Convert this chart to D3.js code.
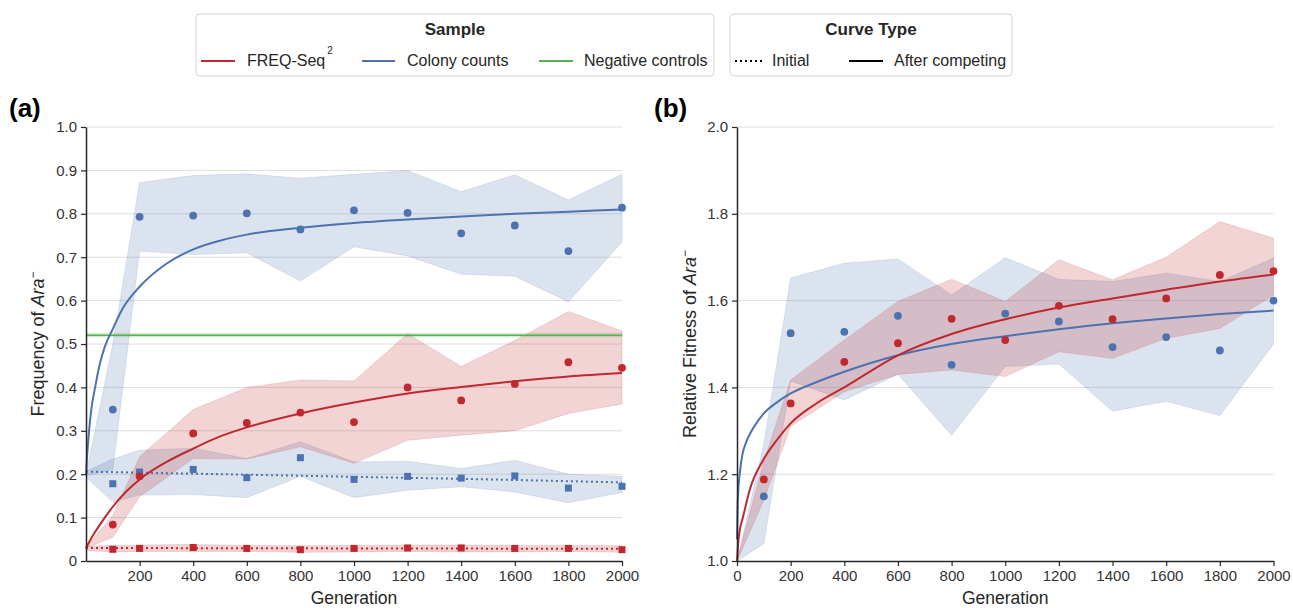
<!DOCTYPE html>
<html><head><meta charset="utf-8">
<script src="https://cdn.jsdelivr.net/npm/d3@7"></script>
<style>body{margin:0;background:#fff;} text{font-family:"Liberation Sans",Arial,Helvetica,sans-serif;}</style>
</head><body><svg id="c" width="1293" height="608"></svg>
<script>
// ---------- DATA ----------
const gens = [100,200,400,600,800,1000,1200,1400,1600,1800,2000];
const bandGens = [0,100,200,400,600,800,1000,1200,1400,1600,1800,2000];

// Panel (a): frequency of Ara-
const freqColonyPts   = [0.349,0.793,0.796,0.801,0.764,0.808,0.802,0.755,0.773,0.714,0.814];
const freqColonyUpper = [0.200,0.500,0.872,0.888,0.892,0.882,0.891,0.900,0.851,0.890,0.832,0.891];
const freqColonyLower = [0.197,0.210,0.714,0.706,0.710,0.645,0.724,0.703,0.661,0.656,0.597,0.735];
const freqColonyFitGens = [0,5,10,20,34,50,71,100,140,200,300,400,500,600,800,1000,1200,1400,1600,1800,2000];
const freqColonyFit     = [0.200,0.250,0.290,0.350,0.400,0.450,0.495,0.535,0.585,0.632,0.685,0.718,0.738,0.752,0.768,0.779,0.787,0.794,0.800,0.805,0.810];

const freqColonyInitPts   = [0.178,0.205,0.211,0.192,0.238,0.188,0.195,0.191,0.196,0.168,0.172];
const freqColonyInitUpper = [0.207,0.235,0.255,0.260,0.236,0.275,0.228,0.230,0.213,0.232,0.200,0.195];
const freqColonyInitLower = [0.193,0.136,0.152,0.153,0.146,0.195,0.146,0.163,0.171,0.159,0.134,0.158];
const freqColonyInitFitGens = [0,500,1000,1500,2000];
const freqColonyInitFit     = [0.206,0.200,0.194,0.188,0.181];

const freqSeqPts   = [0.084,0.195,0.294,0.318,0.342,0.320,0.400,0.370,0.408,0.458,0.445];
const freqSeqUpper = [0.032,0.105,0.240,0.349,0.400,0.417,0.415,0.524,0.448,0.508,0.575,0.530];
const freqSeqLower = [0.030,0.055,0.148,0.236,0.235,0.263,0.225,0.278,0.290,0.300,0.340,0.362];
const freqSeqFitGens = [0,25,50,100,150,200,300,400,500,600,800,1000,1200,1400,1600,1800,2000];
const freqSeqFit     = [0.030,0.058,0.082,0.125,0.160,0.188,0.228,0.259,0.287,0.308,0.340,0.365,0.386,0.401,0.414,0.425,0.433];

const freqSeqInitPts   = [0.027,0.029,0.031,0.029,0.026,0.029,0.030,0.030,0.029,0.029,0.026];
const freqSeqInitUpper = [0.034,0.036,0.037,0.038,0.036,0.035,0.036,0.037,0.037,0.036,0.036,0.035];
const freqSeqInitLower = [0.024,0.021,0.022,0.022,0.022,0.020,0.021,0.022,0.021,0.021,0.022,0.020];
const freqSeqInitFitGens = [0,1000,2000];
const freqSeqInitFit     = [0.030,0.029,0.028];

const negGens  = [0,2000];
const negMean  = [0.520,0.520];
const negUpper = [0.525,0.525];
const negLower = [0.516,0.516];

// Panel (b): relative fitness of Ara-
const fitColonyPts   = [1.149,1.525,1.528,1.565,1.452,1.570,1.552,1.493,1.516,1.485,1.600];
const fitColonyUpper = [1.000,1.270,1.652,1.686,1.696,1.613,1.699,1.649,1.644,1.663,1.644,1.698];
const fitColonyLower = [1.000,1.040,1.415,1.371,1.430,1.290,1.448,1.454,1.345,1.368,1.335,1.500];
const fitColonyFitGens = [0,2,5,10,20,35,50,75,100,150,200,300,400,600,800,1000,1200,1400,1600,1800,2000];
const fitColonyFit     = [1.050,1.120,1.165,1.200,1.245,1.275,1.295,1.320,1.340,1.366,1.386,1.413,1.436,1.474,1.500,1.518,1.534,1.548,1.559,1.569,1.577];

const fitSeqPts   = [1.188,1.363,1.459,1.502,1.558,1.509,1.588,1.557,1.605,1.659,1.668];
const fitSeqUpper = [1.000,1.230,1.417,1.509,1.598,1.649,1.598,1.694,1.648,1.700,1.782,1.744];
const fitSeqLower = [1.000,1.140,1.310,1.390,1.430,1.440,1.425,1.482,1.467,1.513,1.536,1.613];
const fitSeqFitGens = [0,5,10,22,47,97,150,200,296,400,600,800,1000,1200,1400,1600,1800,2000];
const fitSeqFit     = [1.000,1.045,1.070,1.100,1.163,1.232,1.280,1.317,1.363,1.400,1.474,1.523,1.557,1.584,1.605,1.625,1.644,1.660];

// Ticks
const aXTicks = [200,400,600,800,1000,1200,1400,1600,1800,2000];
const aYTicks = [0,0.1,0.2,0.3,0.4,0.5,0.6,0.7,0.8,0.9,1.0];
const bXTicks = [0,200,400,600,800,1000,1200,1400,1600,1800,2000];
const bYTicks = [1.0,1.2,1.4,1.6,1.8,2.0];

// ---------- DRAW ----------
const RED = "#c0282e", BLUE = "#4c72b0", GREEN = "#55b04f";
const INK = "#262626";
const svg = d3.select("#c");

function drawPanel(cfg) {
  const x = d3.scaleLinear().domain([0,2000]).range(cfg.xr);
  const y = d3.scaleLinear().domain(cfg.yd).range([561,127]);
  const g = svg.append("g");

  // grid
  g.append("g").selectAll("line").data(cfg.yTicks.filter(v => v !== cfg.yd[0])).join("line")
    .attr("x1", x(0)).attr("x2", x(2000)).attr("y1", d => y(d)).attr("y2", d => y(d))
    .attr("stroke", "#dedede").attr("stroke-width", 1);

  // bands
  cfg.bands.forEach(b => {
    const area = d3.area().x((d,i) => x(b.gx[i])).y0((d,i) => y(b.lo[i])).y1((d,i) => y(b.hi[i]));
    g.append("path").datum(b.hi).attr("d", area)
      .attr("fill", b.color).attr("fill-opacity", 0.2)
      .attr("stroke", b.color).attr("stroke-opacity", 0.15).attr("stroke-width", 1);
  });

  // lines
  cfg.lines.forEach(l => {
    const line = d3.line().x((d,i) => x(l.gx[i])).y(d => y(d)).curve(d3.curveMonotoneX);
    g.append("path").datum(l.v).attr("d", line).attr("fill", "none")
      .attr("stroke", l.color).attr("stroke-width", l.w || 2)
      .attr("stroke-dasharray", l.dash || null).attr("stroke-opacity", l.op || 1);
  });

  // points
  cfg.points.forEach(p => {
    if (p.shape === "circle") {
      g.append("g").selectAll("circle").data(p.v).join("circle")
        .attr("cx", (d,i) => x(gens[i])).attr("cy", d => y(d)).attr("r", 3.9)
        .attr("fill", p.color);
    } else {
      g.append("g").selectAll("rect").data(p.v).join("rect")
        .attr("x", (d,i) => x(gens[i]) - 3.5).attr("y", d => y(d) - 3.5)
        .attr("width", 7).attr("height", 7).attr("fill", p.color);
    }
  });

  // axes
  const xa = g.append("g").attr("transform", "translate(0,561)")
    .call(d3.axisBottom(x).tickValues(cfg.xTicks).tickSize(5).tickSizeOuter(0).tickPadding(4).tickFormat(d3.format("d")));
  const ya = g.append("g").attr("transform", `translate(${cfg.xr[0]},0)`)
    .call(d3.axisLeft(y).tickValues(cfg.yTicks).tickSize(5).tickSizeOuter(0).tickPadding(4).tickFormat(cfg.yFmt));
  [xa, ya].forEach(a => {
    a.select(".domain").attr("stroke", INK).attr("stroke-width", 1.5);
    a.selectAll(".tick line").attr("stroke", INK).attr("stroke-width", 1.2);
    a.selectAll(".tick text").attr("fill", "#333").style("font-size", "15px")
      .style("font-family", '"Liberation Sans",Arial,sans-serif');
  });

  // axis titles
  g.append("text").attr("x", (cfg.xr[0] + cfg.xr[1]) / 2).attr("y", 604)
    .attr("text-anchor", "middle").attr("fill", INK).style("font-size", "17.5px").text("Generation");
  const yt = g.append("text").attr("transform", `translate(${cfg.ylx},344) rotate(-90)`)
    .attr("text-anchor", "middle").attr("fill", INK).style("font-size", "18px");
  yt.append("tspan").text(cfg.ylabel + " of ");
  yt.append("tspan").style("font-style", "italic").text("Ara");
  yt.append("tspan").attr("dy", -7).style("font-size", "12px").text("\u2212");

  // panel letter
  svg.append("text").attr("x", cfg.letterX).attr("y", 117).attr("fill", "#000")
    .style("font-size", "26px").style("font-weight", "bold").text(cfg.letter);
}

drawPanel({
  xr: [86, 622], yd: [0, 1], xTicks: aXTicks, yTicks: aYTicks,
  yFmt: d => d === 0 ? "0" : d3.format(".1f")(d),
  ylabel: "Frequency", ylx: 44, letter: "(a)", letterX: 9,
  bands: [
    {gx: bandGens, hi: freqColonyUpper, lo: freqColonyLower, color: BLUE},
    {gx: bandGens, hi: freqColonyInitUpper, lo: freqColonyInitLower, color: BLUE},
    {gx: bandGens, hi: freqSeqUpper, lo: freqSeqLower, color: RED},
    {gx: bandGens, hi: freqSeqInitUpper, lo: freqSeqInitLower, color: RED},
    {gx: negGens, hi: negUpper, lo: negLower, color: GREEN}
  ],
  lines: [
    {gx: negGens, v: negMean, color: GREEN, w: 1.6},
    {gx: freqColonyInitFitGens, v: freqColonyInitFit, color: BLUE, dash: "2,3"},
    {gx: freqSeqInitFitGens, v: freqSeqInitFit, color: RED, dash: "2,3"},
    {gx: freqColonyFitGens, v: freqColonyFit, color: BLUE},
    {gx: freqSeqFitGens, v: freqSeqFit, color: RED}
  ],
  points: [
    {v: freqColonyInitPts, color: BLUE, shape: "square"},
    {v: freqSeqInitPts, color: RED, shape: "square"},
    {v: freqColonyPts, color: BLUE, shape: "circle"},
    {v: freqSeqPts, color: RED, shape: "circle"}
  ]
});

drawPanel({
  xr: [737, 1273.5], yd: [1, 2], xTicks: bXTicks, yTicks: bYTicks,
  yFmt: d3.format(".1f"),
  ylabel: "Relative Fitness", ylx: 696, letter: "(b)", letterX: 654,
  bands: [
    {gx: bandGens, hi: fitColonyUpper, lo: fitColonyLower, color: BLUE},
    {gx: bandGens, hi: fitSeqUpper, lo: fitSeqLower, color: RED}
  ],
  lines: [
    {gx: fitColonyFitGens, v: fitColonyFit, color: BLUE},
    {gx: fitSeqFitGens, v: fitSeqFit, color: RED}
  ],
  points: [
    {v: fitColonyPts, color: BLUE, shape: "circle"},
    {v: fitSeqPts, color: RED, shape: "circle"}
  ]
});

// ---------- LEGENDS ----------
function box(x, w) {
  svg.append("rect").attr("x", x).attr("y", 14).attr("width", w).attr("height", 62).attr("rx", 4)
    .attr("fill", "#fff").attr("stroke", "#d4d4d4").attr("stroke-width", 1);
}
box(196, 518);
box(730, 282);
svg.append("text").attr("x", 455).attr("y", 35).attr("text-anchor", "middle").attr("fill", INK)
  .style("font-size", "17px").style("font-weight", "bold").text("Sample");
svg.append("text").attr("x", 871).attr("y", 35).attr("text-anchor", "middle").attr("fill", INK)
  .style("font-size", "17px").style("font-weight", "bold").text("Curve Type");

const sampleItems = [
  {x1: 201, x2: 235, tx: 247, color: RED, label: "FREQ-Seq", sup: "2"},
  {x1: 362, x2: 395, tx: 407, color: BLUE, label: "Colony counts"},
  {x1: 539, x2: 573, tx: 584, color: GREEN, label: "Negative controls"}
];
sampleItems.forEach(it => {
  svg.append("line").attr("x1", it.x1).attr("x2", it.x2).attr("y1", 61).attr("y2", 61)
    .attr("stroke", it.color).attr("stroke-width", 2);
  const t = svg.append("text").attr("x", it.tx).attr("y", 66).attr("fill", INK).style("font-size", "16px");
  t.append("tspan").text(it.label);
  if (it.sup) t.append("tspan").attr("dy", -12).attr("dx", 2).style("font-size", "10px").text(it.sup);
});
svg.append("line").attr("x1", 735).attr("x2", 763).attr("y1", 61).attr("y2", 61)
  .attr("stroke", "#000").attr("stroke-width", 2).attr("stroke-dasharray", "2,3");
svg.append("text").attr("x", 772).attr("y", 66).attr("fill", INK).style("font-size", "16px").text("Initial");
svg.append("line").attr("x1", 849).attr("x2", 883).attr("y1", 61).attr("y2", 61)
  .attr("stroke", "#000").attr("stroke-width", 2);
svg.append("text").attr("x", 894).attr("y", 66).attr("fill", INK).style("font-size", "16px").text("After competing");
</script></body></html>
